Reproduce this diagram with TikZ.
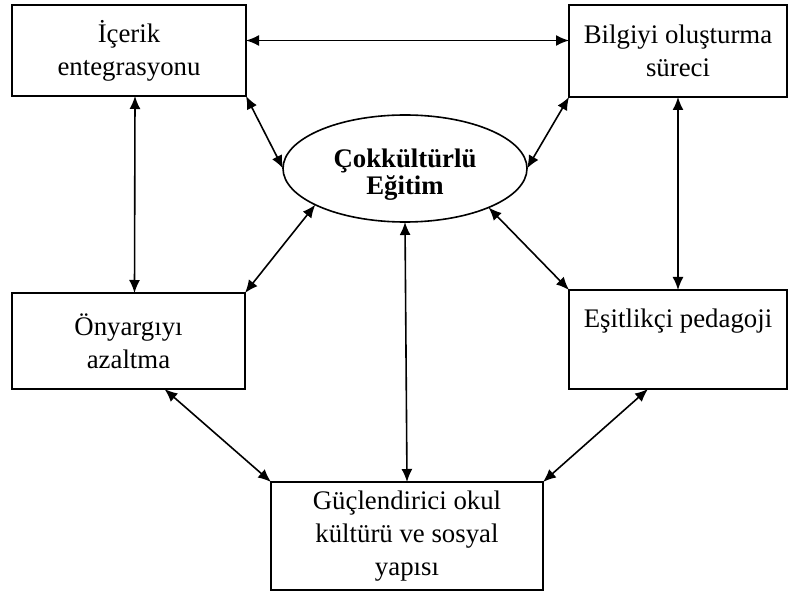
\documentclass[tikz,border=0pt]{standalone}
\usepackage{fontspec}
\setmainfont{Liberation Serif}
\usetikzlibrary{arrows.meta,shapes.geometric}

\tikzset{
  box/.style={draw, line width=1pt, align=center, inner sep=0pt, outer sep=0pt,
    font=\fontsize{13.4}{16.5}\selectfont},
  hub/.style={draw, ellipse, line width=0.8pt, align=center, inner sep=0pt, outer sep=0pt,
    minimum width=122pt, minimum height=53.5pt,
    font=\fontsize{13.4}{13.5}\selectfont\bfseries},
  link/.style={<->, line width=0.8pt}
}

\begin{document}
\begin{tikzpicture}[x=0.5pt, y=-0.5pt, >={Latex[length=6.5pt,width=5.5pt]}]
    \useasboundingbox (0,0) rectangle (792,593);

    \node[box, minimum width=117pt, minimum height=45.5pt] (icerik) at (129,50.5) {İçerik\\entegrasyonu};
    \node[box, minimum width=109pt, minimum height=46pt] (bilgi) at (678,51) {Bilgiyi oluşturma\\süreci};
    \node[hub] (cok) at (405,168.5) {\rule{0pt}{15pt}Çokkültürlü\\Eğitim};
    \node[box, minimum width=116.5pt, minimum height=48pt] (onyargi) at (128.5,341) {Önyargıyı\\azaltma};
    \node[box, minimum width=109pt, minimum height=49.5pt] (esit) at (678,339.5) {Eşitlikçi pedagoji\\ \strut};
    \node[box, minimum width=136pt, minimum height=54pt] (okul) at (407,536) {Güçlendirici okul\\kültürü ve sosyal\\yapısı};

    % cevre baglantilari
    \draw[link] ([yshift=5pt]icerik.east) -- ([yshift=5pt]icerik.east -| bilgi.west);
    \draw[link] ([xshift=3pt]icerik.south) -- ([xshift=3pt]onyargi.north);
    \draw[link] (bilgi.south) -- (esit.north);
    \draw[link] ([xshift=18pt]onyargi.south) -- (okul.north west);
    \draw[link] ([xshift=-15pt]esit.south) -- (okul.north east);

    % merkeze baglantilar
    \draw[link] (icerik.south east) -- (cok.west);
    \draw[link] (bilgi.south west) -- (cok.east);
    \draw[link] (onyargi.north east) -- (cok.202);
    \draw[link] (esit.north west) -- (cok.-25);
    \draw[link] (cok.south) -- (okul.north);
\end{tikzpicture}
\end{document}
